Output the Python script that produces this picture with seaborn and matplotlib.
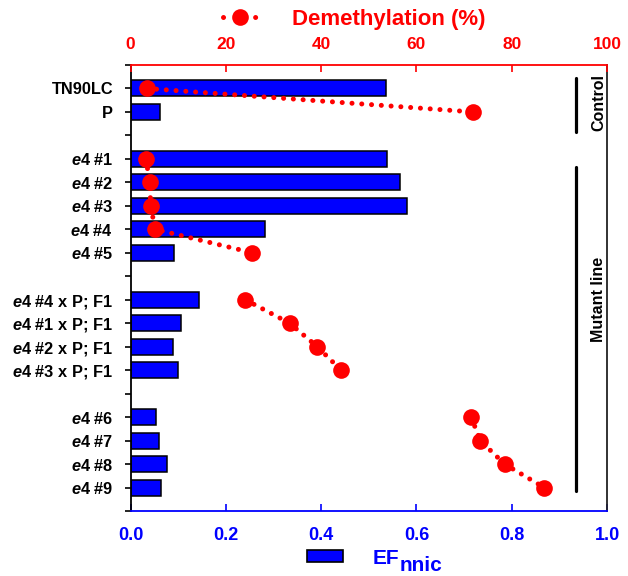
import numpy as np
import pandas as pd
import matplotlib
matplotlib.use("Agg")
import matplotlib.pyplot as plt
import matplotlib.transforms as mtransforms
from matplotlib.lines import Line2D
from matplotlib.patches import Patch
import seaborn as sns

sns.set_theme(style="ticks")
plt.rcParams['font.family'] = ['Liberation Sans', 'DejaVu Sans']
plt.rcParams['font.weight'] = 'bold'
plt.rcParams['mathtext.fontset'] = 'custom'
plt.rcParams['mathtext.it'] = 'Liberation Sans:italic:bold'
plt.rcParams['mathtext.rm'] = 'Liberation Sans:bold'
plt.rcParams['mathtext.bf'] = 'Liberation Sans:bold'

nan = np.nan
E = r"$\mathit{e4}$"
labels = ["TN90LC", "P", "",
          E + " #1", E + " #2", E + " #3", E + " #4", E + " #5", "",
          E + " #4 x P; F1", E + " #1 x P; F1", E + " #2 x P; F1", E + " #3 x P; F1", "",
          E + " #6", E + " #7", E + " #8", E + " #9"]
ef_nnic = [0.537, 0.062, nan,
           0.539, 0.565, 0.581, 0.283, 0.091, nan,
           0.144, 0.106, 0.089, 0.100, nan,
           0.054, 0.060, 0.077, 0.064]
demethylation = [3.4, 71.9, nan,
                 3.2, 4.1, 4.2, 5.2, 25.6, nan,
                 24.1, 33.4, 39.2, 44.2, nan,
                 71.5, 73.4, 78.5, 86.8]
groups = ["Control", "Mutant line"]
ef_ticks = [0.0, 0.2, 0.4, 0.6, 0.8, 1.0]
dm_ticks = [0, 20, 40, 60, 80, 100]

BLUE = "#0000FF"
RED = "#FF0000"

fig = plt.figure(figsize=(6.28, 5.76), dpi=100)
fig.patch.set_facecolor("white")
ax = fig.add_axes([130.5 / 628, 1 - 511 / 576, (607 - 130.5) / 628, (511 - 65) / 576])

slots = list(range(len(labels)))
df = pd.DataFrame({"slot": slots, "ef": ef_nnic}).dropna()
sns.barplot(data=df, x="ef", y="slot", orient="h", order=slots, color=BLUE,
            saturation=1, width=0.68, edgecolor="black", linewidth=1.1,
            errorbar=None, ax=ax)

ax.set_xlim(0, 1)
ax.set_ylim(len(labels), -1)
ax.set_xticks(ef_ticks)
ax.set_xticklabels([f"{t:.1f}" for t in ef_ticks])
ax.set_yticks(range(-1, len(labels) + 1))
ax.set_yticklabels([""] + labels + [""])
ax.set_xlabel("")
ax.set_ylabel("")
ax.tick_params(axis="x", bottom=True, top=False, direction="in", length=5, width=1.2,
               color=BLUE, labelcolor=BLUE, labelsize=13, pad=11.5)
ax.tick_params(axis="y", left=True, right=False, direction="out", length=4.5, width=1.2,
               color="black", labelcolor="black", labelsize=11.8, pad=8)
ax.spines["top"].set_visible(False)
ax.spines["bottom"].set_color(BLUE)
ax.spines["bottom"].set_linewidth(1.3)
ax.spines["left"].set_color("black")
ax.spines["left"].set_linewidth(1.3)
ax.spines["right"].set_color("#222222")
ax.spines["right"].set_linewidth(1.3)
ax.spines["right"].set_visible(True)

ax2 = ax.twiny()
ax2.set_xlim(0, 100)
ax2.set_xticks(dm_ticks)
ax2.set_xticklabels([str(t) for t in dm_ticks])
dot_style = (0, (0.01, 1.95))
ax2.plot(demethylation, slots, color=RED, lw=3.6, linestyle=dot_style,
         dash_capstyle="round", marker="o", markersize=12, markeredgewidth=0,
         clip_on=False)
ax2.tick_params(axis="x", top=True, bottom=False, direction="in", length=5, width=1.2,
                color=RED, labelcolor=RED, labelsize=12.5, pad=9.5)
ax2.tick_params(axis="y", left=False, right=False, labelleft=False, labelright=False)
for s in ["left", "right", "bottom"]:
    ax2.spines[s].set_visible(False)
ax2.spines["top"].set_color(RED)
ax2.spines["top"].set_linewidth(1.3)
ax.set_ylim(len(labels), -1)

# group brackets on the right
blend = mtransforms.blended_transform_factory(ax.transAxes, ax.transData)
ax.plot([0.935, 0.935], [-0.45, 1.86], transform=blend, color="black", lw=2.3,
        solid_capstyle="round", clip_on=False)
ax.plot([0.935, 0.935], [3.35, 17.15], transform=blend, color="black", lw=2.3,
        solid_capstyle="round", clip_on=False)
ax.text(0.982, 0.6, groups[0], transform=blend, rotation=90, ha="center", va="center",
        fontsize=11.5, fontweight="bold", color="black")
ax.text(0.982, 9.0, groups[1], transform=blend, rotation=90, ha="center", va="center",
        fontsize=11.5, fontweight="bold", color="black")

# top legend
h_top = Line2D([], [], color=RED, lw=3.6, linestyle=(0, (0.01, 3.2)), dash_capstyle="round",
               marker="o", markersize=12, markeredgewidth=0)
fig.legend(handles=[h_top], labels=["Demethylation (%)"], loc="center",
           bbox_to_anchor=(0.564, 0.967), frameon=False, numpoints=1,
           prop={"size": 16, "weight": "bold"}, labelcolor=RED,
           handlelength=1.5, handletextpad=1.6, borderpad=0)

# bottom legend
h_bot = Patch(facecolor=BLUE, edgecolor="black", linewidth=1.2)
leg = fig.legend(handles=[h_bot], labels=["EF"], loc="center",
                 bbox_to_anchor=(0.562, 0.031), frameon=False,
                 prop={"size": 15, "weight": "bold"}, labelcolor=BLUE,
                 handlelength=1.75, handleheight=0.5, handletextpad=1.4, borderpad=0)
fig.canvas.draw()
renderer = fig.canvas.get_renderer()
bb = leg.get_texts()[0].get_window_extent(renderer)
fig.text((bb.x1 + 1) / fig.bbox.width, (bb.y0 - 7) / fig.bbox.height, "nnic",
         fontsize=15, fontweight="bold", color=BLUE, ha="left", va="bottom")

fig.savefig("out.png", dpi=100, facecolor="white")
